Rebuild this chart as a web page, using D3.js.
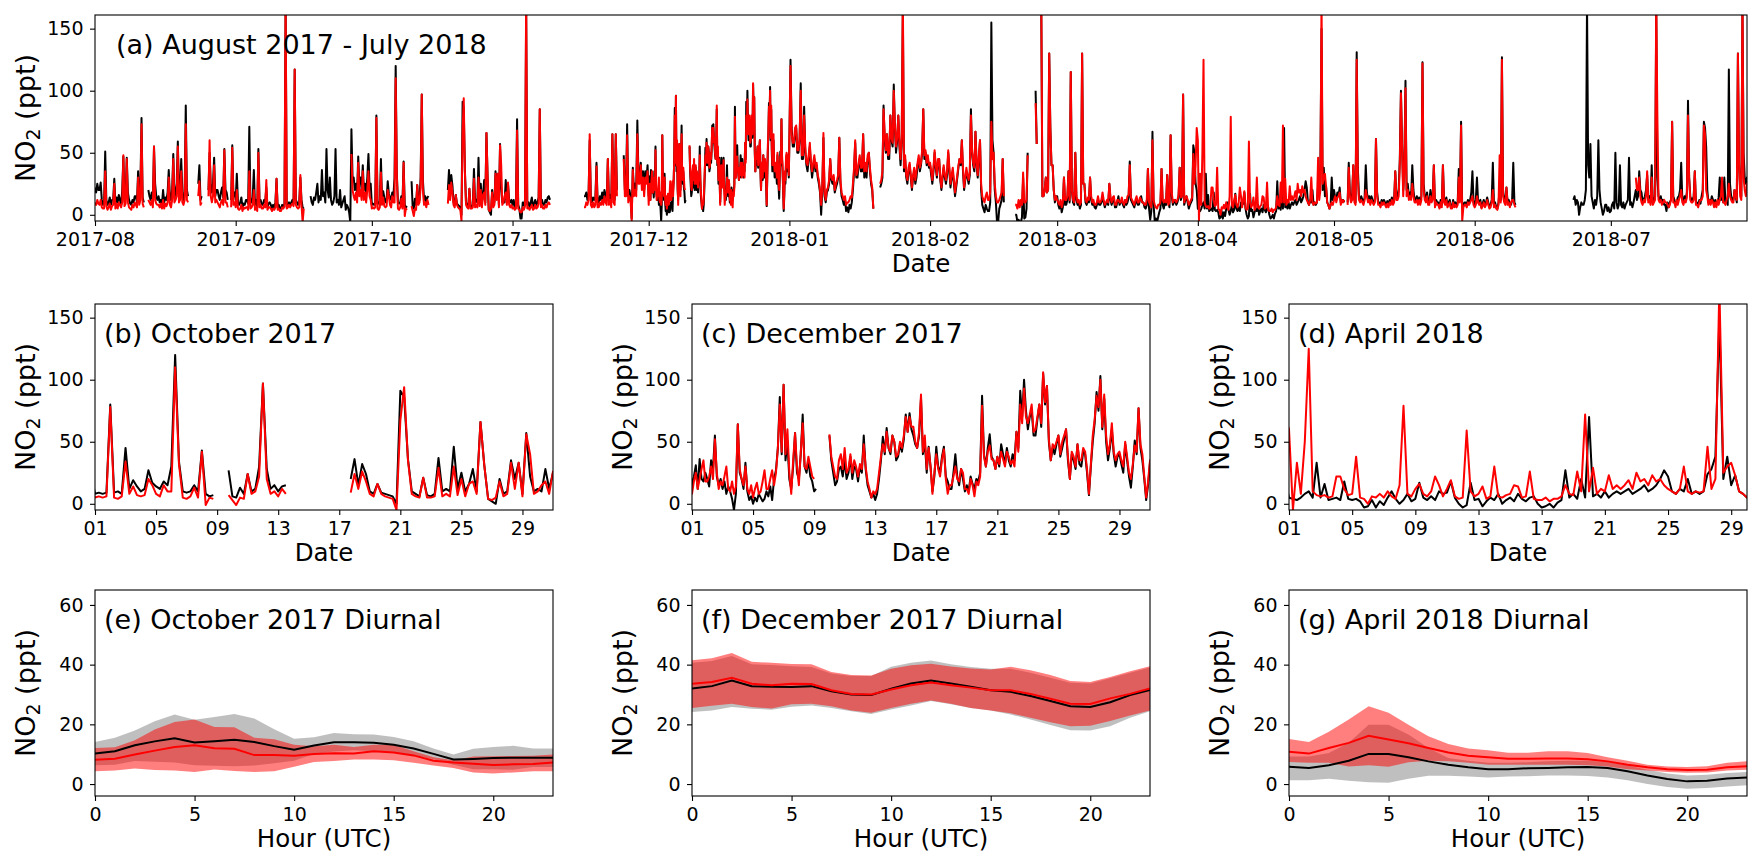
<!DOCTYPE html>
<html>
<head>
<meta charset="utf-8">
<script src="https://cdn.jsdelivr.net/npm/d3@7"></script>
<style>
body { margin: 0; background: #fff; }
text { font-family: "DejaVu Sans", sans-serif; }
</style>
</head>
<body>
<script>
// NO2 time series, black = measured, red = model. One row per day:
// 4 values a day (00, 06, 12, 18 UTC), December 8 values a day (every 3 h).
var monthStarts = ["2017-08-01","2017-09-01","2017-10-01","2017-11-01","2017-12-01","2018-01-01",
                   "2018-02-01","2018-03-01","2018-04-01","2018-05-01","2018-06-01","2018-07-01"];
var stepsPerDay = [4, 4, 4, 4, 8, 4, 4, 4, 4, 4, 4, 4];

var blackAug = [22,18,25,20, 20,26,12,8, 9,51,12,8, 10,14,8,12, 12,29,9,14,
  10,16,12,8, 20,47,12,15, 46,18,12,9, 8,12,10,15, 15,10,35,12,
  20,78,14,10, null,null,null,20, 15,12,18,10, 55,25,15,12, 15,10,12,8,
  20,10,14,12, 18,36,15,12, 20,49,14,18, 25,59,18,20, 45,18,12,16,
  88,20,15,null, null,null,null,null, null,null,null,25, 40,12,15,null, null,null,null,null,
  20,50,25,18, 25,46,15,20, 20,15,12,18, 22,14,53,20, 18,12,null,null,
  12,56,15,18];
var redAug = [10,8,12,9, 8,12,6,5, 5,35,7,4, 6,9,4,7, 8,25,5,9,
  5,10,8,6, 10,48,7,9, 45,10,6,5, 4,8,6,10, 8,6,30,8,
  12,73,9,6, null,null,null,12, 10,8,12,6, 55,12,9,8, 8,6,9,5,
  12,5,9,7, 10,30,8,6, 12,45,10,12, 15,55,10,12, 35,10,8,12,
  73,12,10,null, null,null,null,null, null,null,null,15, 27,8,10,null, null,null,null,null,
  15,60,15,10, 15,40,10,12, 10,8,6,10, 12,8,52,10, 10,6,null,null,
  6,54,8,10];

var blackSep = [12,33,10,8, 10,14,6,9, 8,12,12,9, 71,10,10,14, 36,8,12,6,
  53,12,12,8, 8,12,10,22, 6,9,10,8, 5,8,6,10, 29,6,8,5,
  5,8,6,9, 170,6,8,10, 8,10,12,9, 117,12,10,8, 10,30,12,6,
  5,null,null,null, null,null,15,10, 8,14,12,18, 25,10,15,12, 36,15,18,10,
  53,20,14,30, 12,8,10,15, 53,10,12,8, 20,6,9,12, 15,4,8,6,
  2,-6,69,30, 30,20,25,18, 47,25,30,20, 40,20,25,18, 30,49,22,25];
var redSep = [6,20,5,4, 5,8,3,6, 5,6,6,4, 35,5,6,8, 20,4,6,3,
  50,6,8,5, 5,8,6,28, 4,6,6,5, 3,5,4,6, 29,4,5,3,
  3,6,5,7, 175,5,6,8, 6,8,9,7, 117,8,6,5, 6,32,8,-6,
  5,null,null,null, null,null,null,null, null,null,null,null, null,null,null,null, null,null,null,null,
  null,null,null,null, null,null,null,null, null,null,null,null, null,null,null,null, null,null,null,null,
  null,null,49,20, 15,12,18,10, 42,15,20,12, 35,12,18,10, 20,35,15,12];

var blackOct = [8,9,8,9, 80,9,10,8, 45,12,19,14, 10,12,27,17, 14,12,18,15,
  30,120,34,10, 9,10,15,10, 43,8,6,7, null,null,null,27, 6,5,13,8,
  24,10,12,30, 97,28,12,15, 10,14,15,null, null,null,null,null, null,null,null,null,
  null,null,null,null, null,null,null,20, 36,15,32,24, 10,8,16,9, 8,7,6,0,
  91,86,36,10, 8,6,21,7, 6,8,37,10, 12,10,46,12, 25,10,16,28,
  10,66,31,4, 2,0,20,8, 10,35,20,33, 8,57,22,10, 12,10,28,12,
  25,12,10,12];
var redOct = [5,6,5,6, 78,5,4,6, 34,8,14,7, 6,7,20,15, 8,6,15,10,
  10,110,32,5, 4,6,13,5, 42,-1,5,4, null,null,null,7, 3,-1,5,4,
  24,8,10,22, 97,20,8,10, 6,12,8,null, null,null,null,null, null,null,null,null,
  null,null,null,null, null,null,null,9, 24,12,26,18, 8,6,16,8, 6,5,4,-5,
  67,94,35,8, 6,5,21,5, 5,6,29,6, 8,6,30,7, 20,6,16,18,
  8,66,31,4, 3,5,18,6, 8,33,12,33, 6,56,40,8, 10,15,18,8,
  26,8,6,8];

var blackNov = [8,12,5,10, 77,8,5,-3, -3,10,8,12, 165,8,10,6, 10,14,6,9,
  12,8,10,14, 85,10,12,8, 8,12,10,14, 15,12,null,null, null,null,null,null,
  null,null,null,null, null,null,null,null, null,null,null,null, null,null,null,null, null,null,null,null,
  null,null,null,15, 15,18,12,16, 60,15,10,14, 12,14,42,10, 10,15,12,18,
  12,20,15,12, 45,12,16,10, 65,15,12,65, 20,null,null,null, null,null,48,20,
  20,73,15,20, 15,-3,38,20, 25,20,76,30, 30,42,25,35, 20,35,28,40];
var redNov = [5,6,4,5, 68,5,4,2, 2,6,4,7, 175,5,6,4, 6,8,4,5,
  8,5,6,9, 85,6,8,5, 5,8,6,9, 10,8,null,null, null,null,null,null,
  null,null,null,null, null,null,null,null, null,null,null,null, null,null,null,null, null,null,null,null,
  null,null,null,6, 6,10,8,12, 65,8,6,10, 6,8,39,6, 6,10,8,12,
  8,15,10,8, 45,8,12,6, 65,10,8,65, 15,null,null,null, null,null,45,15,
  15,64,10,15, 12,-5,36,15, 20,15,65,25, 25,40,20,30, 15,30,25,35];

var blackDec = [
  15,22,31,12,36,20,18,25,  20,14,35,28,55,22,15,20,  12,18,8,14,10,4,-5,8,
  64,25,20,12,33,10,3,6,  0,5,2,8,5,2,4,10,  6,14,3,20,27,45,86,40,
  96,35,50,20,12,30,57,25,  20,40,72,30,25,35,22,18,  10,12,null,null,null,null,null,null,
  55,35,25,15,18,28,30,22,  35,20,25,38,20,30,28,18,  30,25,55,28,15,10,5,8,
  3,8,20,35,54,40,61,45,  40,55,50,35,38,48,42,52,  72,58,73,60,55,48,45,55,
  85,40,50,25,46,30,10,22,  46,30,25,38,46,22,18,12,  12,25,40,22,15,28,20,10,
  15,10,22,16,12,20,18,25,  87,40,30,45,56,38,35,28,  38,30,48,40,32,45,35,30,
  40,35,58,45,91,70,100,75,  60,70,75,55,55,68,80,62,  105,80,95,50,35,45,40,48,
  55,38,45,52,60,35,20,40,  35,28,48,32,30,42,40,25,  7,30,50,65,90,75,103,60,
  85,50,35,45,60,40,30,38,  40,32,25,48,35,22,13,30,  51,40,77,45,35,20,3,15,
  33,25,40,48,45,35,38,30];
var redDec = [
  8,18,25,12,20,28,35,18,  18,22,30,20,52,25,12,18,  15,22,30,12,10,18,8,14,
  64,28,20,15,30,12,8,15,  5,12,17,8,10,18,27,12,  12,20,27,15,25,45,80,42,
  96,40,60,25,8,35,57,30,  15,42,65,30,28,38,30,22,  20,null,null,null,null,null,null,null,
  56,38,30,22,20,35,40,28,  45,25,28,40,25,35,30,22,  32,28,48,30,18,12,5,10,
  8,12,25,38,48,42,58,45,  42,55,50,38,40,50,45,55,  70,58,70,62,62,50,45,58,
  88,42,55,28,45,30,8,25,  40,28,22,36,44,20,8,15,  15,22,30,20,18,28,25,12,
  12,8,20,15,6,18,15,22,  79,38,30,42,47,36,35,28,  38,32,42,36,30,42,38,32,
  35,30,58,42,80,65,93,70,  65,72,80,58,60,70,80,65,  106,82,95,52,35,48,45,50,
  55,40,50,55,60,38,20,42,  38,30,48,35,35,45,42,28,  8,32,55,68,87,78,100,62,
  88,55,40,48,65,42,35,40,  42,35,30,50,38,25,20,32,  47,42,77,48,40,22,5,18,
  35,28,45,50,48,38,40,32];

var blackJan = [60,125,70,55, 55,65,70,50, 50,60,106,45, 45,87,50,40, 35,45,55,40,
  30,38,45,35, 40,30,25,18, 0,20,62,15, 10,18,20,25, 45,28,25,30,
  18,22,25,30, 62,25,15,12, 8,12,3,6, 2,8,5,10, 20,35,58,30,
  30,40,45,35, 35,65,30,40, 30,45,50,35, 25,20,5,null, null,null,null,null,
  22,25,30,88, 60,50,65,45, 45,80,60,55, 105,70,50,60, 80,55,40,60,
  165,35,45,30, 25,35,40,30, 20,30,35,25, 30,40,45,35, 40,50,85,45,
  50,40,45,38];
var redJan = [62,120,65,58, 58,70,72,52, 52,62,100,48, 48,80,55,42, 40,48,58,42,
  35,42,48,38, 42,32,28,20, 8,22,66,18, 12,20,22,28, 45,30,28,32,
  20,25,28,32, 62,28,18,15, 12,15,8,10, 10,12,15,14, 25,38,60,32,
  35,42,48,38, 38,65,35,42, 35,48,50,38, 28,22,5,null, null,null,null,null,
  25,28,35,85, 65,52,65,48, 50,80,62,58, 100,72,55,62, 80,58,45,62,
  175,38,48,32, 28,38,42,32, 22,32,38,28, 35,42,48,38, 42,52,85,48,
  52,42,48,40];

var blackFeb = [40,32,25,35, 50,38,30,42, 45,28,20,30, 38,30,25,32, 50,35,22,30,
  35,25,15,22, 30,38,45,40, 60,35,20,28, 35,30,25,32, 85,50,40,35,
  67,40,30,45, 60,20,8,5, 2,8,5,3, 3,10,155,60, 50,20,10,-6,
  -6,5,8,12, 45,10,null,null, null,null,null,null, null,null,null,0, 0,-6,-4,-6,
  -6,-2,30,-3, -2,5,50,null, null,null,null,null, null,100,57,null, null,null,165,15,
  15,20,30,18, 20,130,70,40, 40,20,10,15];
var redFeb = [42,35,28,38, 52,40,32,45, 45,30,22,32, 40,32,28,35, 52,38,25,32,
  38,28,18,25, 32,40,45,42, 60,38,22,30, 38,32,28,35, 80,52,42,38,
  67,42,32,48, 60,25,15,12, 10,15,18,12, 12,18,75,45, 50,25,15,10,
  10,12,15,18, 45,15,null,null, null,null,null,null, null,null,null,8, 8,5,12,6,
  12,8,34,10, 10,12,48,null, null,null,null,null, null,90,57,null, null,null,175,15,
  15,20,30,18, 20,130,70,40, 40,20,12,15];

var blackMar = [15,8,5,10, 2,6,30,8, 8,12,35,10, 115,20,10,8, 50,12,8,10,
  5,8,130,25, 25,10,8,12, 10,30,12,8, 10,6,5,8, 12,8,8,10,
  15,10,6,9, 10,8,25,12, 8,12,12,6, 6,10,15,8, 10,12,8,6,
  12,8,10,14, 43,12,10,8, 6,10,12,8, 8,12,15,10, 10,6,5,8,
  37,5,-4,3, 67,8,-5,-3, -6,-2,2,5, 37,8,5,10, 8,32,10,6,
  64,15,8,10, 12,8,10,14, 38,12,15,97, 8,12,15,10, 5,8,10,12,
  56,50,25,20];
var redMar = [12,10,8,12, 6,10,30,12, 12,15,35,12, 115,20,12,10, 50,15,10,12,
  8,10,130,25, 25,12,10,14, 12,30,15,10, 12,8,8,10, 15,10,10,12,
  18,12,8,10, 12,10,25,14, 10,14,15,8, 8,12,12,10, 10,14,10,8,
  12,10,15,16, 40,14,12,10, 8,12,15,10, 10,14,12,10, 10,8,8,12,
  37,10,8,6, 60,12,8,6, 5,8,8,10, 37,12,10,12, 10,32,8,10,
  64,18,10,12, 12,10,12,16, 38,14,15,97, 10,14,15,12, 8,10,12,14,
  49,25,40,70];

var blackApr = [5,4,3,5, 8,10,5,33, 5,16,3,4, 5,3,18,4, 3,4,2,-3,
  -2,3,-3,2, -1,5,10,4, 0,3,8,2, 4,17,5,3, 6,3,10,8,
  9,18,5,0, -3,-1,17,3, 4,-2,2,5, 3,8,0,3, 5,2,8,4,
  2,5,6,0, -3,-2,0,-3, 1,3,27,5, 8,4,20,5, 70,6,8,5,
  10,5,8,10, 8,10,12,8, 10,12,15,10, 12,15,20,27, 22,10,8,12,
  10,20,8,10, 8,10,24,28, 38,150,20,38, 15,23,10,8, 5,8,30,12];
var redApr = [60,-5,33,8, 50,125,10,7, 6,7,5,6, 22,22,12,7, 8,38,5,4,
  0,6,5,8, 5,10,6,4, 15,79,8,6, 12,16,8,6, 10,22,15,6,
  12,19,6,4, 5,59,10,6, 8,14,4,6, 30,6,5,7, 8,15,14,5,
  6,26,4,3, 3,5,2,4, 4,6,15,8, 7,26,10,72, 10,29,8,12,
  10,23,12,15, 12,15,19,12, 25,18,20,15, 23,18,20,15, 12,10,8,12,
  30,10,8,10, 9,10,46,12, 20,175,25,30, 33,23,10,8, 5,8,10,8];

var blackMay = [20,14,12,18, 15,22,10,12, 12,10,null,null, 10,42,18,12, 15,40,12,10,
  131,38,15,12, 15,12,10,14, 40,18,12,15, 10,15,12,9, 12,61,18,10,
  10,8,12,9, 12,10,8,11, 8,12,10,14, 10,12,35,15, 15,20,45,100,
  55,20,40,108, 20,25,15,18, 15,40,20,12, 12,15,10,14, 10,15,123,25,
  15,12,18,10, 10,20,12,15, 40,8,12,10, 10,6,12,8, 40,12,10,14,
  8,10,12,6, 6,12,8,10, 8,10,37,12, 75,5,8,10, 10,8,12,9,
  12,18,35,10];
var redMay = [12,15,10,14, 15,18,8,12, 10,12,null,null, 8,38,15,10, 12,40,10,8,
  125,30,12,10, 12,10,8,12, 20,15,10,12, 8,12,10,8, 10,61,15,8,
  8,6,10,8, 10,8,6,9, 6,10,8,12, 8,10,35,12, 12,15,40,98,
  55,15,35,102, 15,20,12,15, 12,25,15,10, 10,12,8,12, 8,12,122,20,
  12,10,15,8, 8,15,10,12, 40,6,10,8, 8,5,10,6, 40,10,8,12,
  6,8,10,5, 5,10,6,8, 6,8,30,10, 72,-5,6,8, 8,6,10,8,
  10,12,15,8];

var blackJun = [8,12,30,10, 10,12,6,9, 12,8,10,14, 10,6,8,12, 42,8,10,6,
  5,10,20,12, 127,20,12,10, 22,10,12,8, 8,12,42,10, 8,null,null,null,
  null,null,null,null, null,null,null,null, null,null,null,null, null,null,null,null, null,null,null,null,
  null,null,null,null, null,null,null,null, null,null,null,null, null,null,null,null, null,null,null,null,
  null,null,null,null, null,null,null,12, 15,8,12,10, 0,6,10,8, 8,12,20,170,
  40,30,57,15, 10,5,12,8, 15,60,20,10, 5,0,3,8, 8,3,6,2];
var redJun = [6,8,15,10, 8,10,5,7, 10,6,8,12, 8,5,6,10, 20,6,8,5,
  4,8,48,10, 125,15,10,8, 22,8,10,6, 10,12,12,8, 6,null,null,null,
  null,null,null,null, null,null,null,null, null,null,null,null, null,null,null,null, null,null,null,null,
  null,null,null,null, null,null,null,null, null,null,null,null, null,null,null,null, null,null,null,null,
  null,null,null,null, null,null,null,null, null,null,null,null, null,null,null,null, null,null,null,null,
  null,null,null,null, null,null,null,null, null,null,null,null, null,null,null,null, null,null,null,null];

var blackJul = [3,8,10,5, 50,10,5,8, 40,8,6,10, 5,8,10,12, 46,8,10,6,
  10,15,20,12, 15,35,20,18, 10,12,15,20, 32,12,15,10, 40,10,12,15,
  165,30,15,12, 15,10,12,8, 8,3,10,6, 10,12,75,15, 12,8,10,14,
  15,20,42,12, 10,15,12,18, 92,30,15,12, 12,15,35,10, 10,8,12,9,
  15,20,75,70, 55,20,10,12, 10,15,12,8, 12,8,10,14, 30,12,15,10,
  30,10,12,8, 117,25,15,12, 12,20,15,10, 130,40,20,15, 165,50,30,25,
  30,20,25,18];
var redJul = [null,null,null,null, null,null,null,null, null,null,null,null, null,null,null,null, null,null,null,null,
  null,null,30,20, 20,30,15,10, 8,12,10,15, 35,10,12,8, 30,8,10,12,
  175,80,12,10, 12,8,10,12, 10,10,8,6, 8,12,75,10, 10,6,12,8,
  12,15,20,10, 8,12,10,14, 80,30,12,10, 10,12,35,8, 8,6,10,12,
  12,15,72,65, 20,15,8,12, 8,12,10,6, 10,6,12,8, 12,15,30,10,
  10,8,12,15, 25,15,12,10, 10,20,15,12, 130,40,15,12, 175,30,20,15,
  25,20,18,15];

var blackByMonth = [blackAug, blackSep, blackOct, blackNov, blackDec, blackJan,
                    blackFeb, blackMar, blackApr, blackMay, blackJun, blackJul];
var redByMonth = [redAug, redSep, redOct, redNov, redDec, redJan,
                  redFeb, redMar, redApr, redMay, redJun, redJul];

// diurnal cycles, hour 0..23: mean with lower / upper band
var hours = [0,1,2,3,4,5,6,7,8,9,10,11,12,13,14,15,16,17,18,19,20,21,22,23];

var octBlackMean = [10.2,11.0,13.0,14.3,15.3,13.9,14.3,14.8,14.1,12.7,11.5,12.9,14.0,14.0,13.8,13.2,11.9,10.1,8.2,8.4,8.7,8.8,8.8,8.8];
var octBlackHigh = [14.1,15.5,17.9,21.0,23.3,21.5,22.5,23.5,22.0,18.4,15.2,15.7,17.1,16.7,16.6,15.8,14.3,11.9,9.9,11.8,12.4,12.8,11.9,11.9];
var octBlackLow  = [6.3,6.5,7.7,7.5,7.2,6.3,6.1,6.0,6.2,7.0,7.8,10.1,10.9,11.3,11.0,10.6,9.5,8.3,6.5,5.0,5.0,4.8,5.7,5.7];
var octRedMean = [8.1,8.5,9.9,11.2,12.4,13.0,12.0,11.8,9.7,9.7,9.5,10.1,10.3,10.2,11.0,10.6,9.6,7.8,7.2,6.8,6.4,6.6,6.7,7.2];
var octRedHigh = [12.1,12.3,14.7,18.3,20.8,21.6,19.1,19.0,15.5,15.0,13.2,12.7,13.2,12.4,13.2,13.2,11.0,9.0,8.0,9.2,9.3,9.4,9.5,9.9];
var octRedLow  = [4.3,4.5,5.2,4.7,4.5,4.0,4.9,4.4,4.0,4.3,5.8,7.4,7.7,8.2,8.2,8.0,7.1,6.2,5.4,3.9,3.5,3.9,4.3,4.3];

var decBlackMean = [32.0,32.8,34.7,32.8,32.6,32.5,32.8,31.1,30.0,29.8,31.9,33.7,34.7,33.7,32.6,31.4,30.9,29.5,27.8,26.1,25.8,27.4,29.8,31.5];
var decBlackHigh = [40.6,41.2,42.9,40.1,39.9,39.5,39.2,37.0,36.2,36.2,39.3,40.6,41.4,40.1,39.2,38.6,38.6,37.3,35.6,33.9,33.7,35.4,37.3,39.0];
var decBlackLow  = [24.1,24.6,25.8,25.2,24.9,25.9,26.3,25.5,24.4,23.5,25.0,26.3,27.8,26.7,25.5,24.6,23.3,21.6,19.8,18.0,17.9,19.4,22.2,24.4];
var decRedMean = [33.6,34.2,35.6,33.6,33.1,33.6,33.5,31.4,30.2,30.0,31.7,33.1,34.0,33.1,32.3,31.4,31.4,30.2,28.6,26.9,26.8,28.7,30.2,32.0];
var decRedHigh = [41.5,42.1,43.9,41.0,40.6,40.2,40.1,37.5,36.5,36.4,38.6,39.8,40.3,39.4,38.7,38.4,39.3,38.1,36.5,34.5,34.2,35.9,37.8,39.5];
var decRedLow  = [25.5,26.2,26.9,25.8,25.3,26.7,26.9,26.1,24.6,23.9,25.5,26.9,28.0,26.9,25.5,24.6,23.7,22.2,20.7,19.4,19.5,21.1,23.0,24.6];

var aprBlackMean = [5.8,5.4,6.3,7.8,10.1,10.1,9.0,7.6,6.5,5.6,5.0,5.0,5.3,5.4,5.6,5.7,5.4,4.3,2.9,1.7,0.9,1.1,1.9,2.2];
var aprBlackHigh = [9.2,9.2,10.4,13.8,19.9,19.9,16.6,12.1,8.7,7.8,7.1,7.1,7.3,7.6,7.8,7.8,7.4,6.2,4.8,3.5,2.9,3.1,3.7,4.0];
var aprBlackLow  = [1.3,1.3,1.8,1.1,0.6,0.4,1.8,2.8,2.8,2.5,2.2,2.5,2.6,2.9,2.9,2.7,2.2,1.3,0.0,-1.0,-1.6,-1.3,-0.8,-0.4];
var aprRedMean = [10.8,10.2,12.1,13.8,16.2,14.9,13.7,12.1,10.6,9.5,9.0,8.5,8.5,8.6,8.6,8.3,7.6,6.5,5.6,5.0,4.7,4.8,5.6,6.0];
var aprRedHigh = [15.1,14.1,17.5,21.6,26.1,23.9,19.9,16.0,13.4,11.9,11.3,10.5,10.5,11.0,11.0,10.4,9.0,7.8,6.5,5.9,5.7,6.0,7.1,7.6];
var aprRedLow  = [7.4,7.1,7.1,5.9,6.3,5.8,7.3,7.8,7.6,7.1,6.5,6.5,6.5,6.5,6.5,6.3,5.9,5.0,4.5,4.0,3.8,3.9,4.5,4.8];

// ticks
var no2Ticks = [0, 50, 100, 150];
var diurnalTicks = [0, 20, 40, 60];
var dayTicks = [1, 5, 9, 13, 17, 21, 25, 29];
var hourTicks = [0, 5, 10, 15, 20];

// ---------------------------------------------------------------
var parseDay = d3.utcParse("%Y-%m-%d");

function buildSeries(byMonth) {
	var out = [];
	byMonth.forEach(function (vals, m) {
		var t0 = parseDay(monthStarts[m]);
		var step = 24 / stepsPerDay[m];
		vals.forEach(function (v, i) {
			out.push({ t: d3.utcHour.offset(t0, i * step), v: v });
		});
	});
	return out;
}
var blackSeries = buildSeries(blackByMonth);
var redSeries = buildSeries(redByMonth);

var canvas = d3.select("body").append("svg")
	.attr("width", 1763)
	.attr("height", 868);

var cols = [95, 692, 1289];
var rows = [15, 304, 590];
var smallW = 458, panelH = 206, bigW = 1652;
var clipCount = 0;

function makePanel(left, top, w, h) {
	var g = canvas.append("g").attr("transform", "translate(" + left + "," + top + ")");
	var id = "clip" + (clipCount++);
	g.append("clipPath").attr("id", id).append("rect").attr("width", w).attr("height", h);
	var plot = g.append("g").attr("clip-path", "url(#" + id + ")");
	return { g: g, plot: plot, w: w, h: h };
}

function styleAxis(sel) {
	sel.select(".domain").remove();
	sel.selectAll(".tick line").attr("stroke", "#000").attr("stroke-width", 1.1);
	sel.selectAll(".tick text").attr("fill", "#000");
	sel.attr("font-size", 19).attr("font-family", "DejaVu Sans, sans-serif");
}

function decorate(p, xAxis, yAxis, title, titleDx, xLabel) {
	p.g.append("g").attr("transform", "translate(0," + p.h + ")").call(xAxis).call(styleAxis);
	p.g.append("g").call(yAxis).call(styleAxis);
	p.g.append("rect").attr("width", p.w).attr("height", p.h)
		.attr("fill", "none").attr("stroke", "#000").attr("stroke-width", 1.1);

	p.g.append("text").attr("x", titleDx).attr("y", 38.5)
		.attr("font-size", 27).text(title);

	p.g.append("text").attr("x", p.w / 2).attr("y", p.h + 51)
		.attr("text-anchor", "middle").attr("font-size", 24.5).text(xLabel);

	var yl = p.g.append("text")
		.attr("transform", "translate(-60," + (p.h / 2) + ") rotate(-90)")
		.attr("text-anchor", "middle").attr("font-size", 27);
	yl.append("tspan").text("NO");
	yl.append("tspan").attr("font-size", 19).attr("dy", 5).text("2");
	yl.append("tspan").attr("dy", -5).text(" (ppt)");
}

function drawSeries(p, x, y) {
	var line = d3.line()
		.defined(function (d) { return d.v !== null; })
		.x(function (d) { return x(d.t); })
		.y(function (d) { return y(d.v); });
	p.plot.append("path").datum(blackSeries).attr("d", line)
		.attr("fill", "none").attr("stroke", "#000").attr("stroke-width", 2).attr("stroke-linejoin", "round");
	p.plot.append("path").datum(redSeries).attr("d", line)
		.attr("fill", "none").attr("stroke", "#ff0000").attr("stroke-width", 2).attr("stroke-linejoin", "round");
}

// (a) whole year
var pa = makePanel(cols[0], rows[0], bigW, panelH);
var xa = d3.scaleUtc().domain([parseDay("2017-08-01"), parseDay("2018-07-31")]).range([0, bigW]);
var ya = d3.scaleLinear().domain([-5, 161]).range([panelH, 0]);
drawSeries(pa, xa, ya);
decorate(pa,
	d3.axisBottom(xa).tickValues(monthStarts.map(parseDay)).tickFormat(d3.utcFormat("%Y-%m")).tickSize(5).tickPadding(6.5),
	d3.axisLeft(ya).tickValues(no2Ticks).tickSize(5).tickPadding(6.5),
	"(a) August 2017 - July 2018", 21, "Date");

// (b)-(d) single months
var monthPanels = [
	{ title: "(b) October 2017", start: "2017-10-01", end: "2017-10-31" },
	{ title: "(c) December 2017", start: "2017-12-01", end: "2017-12-31" },
	{ title: "(d) April 2018", start: "2018-04-01", end: "2018-04-30" }
];
monthPanels.forEach(function (mp, k) {
	var p = makePanel(cols[k], rows[1], smallW, panelH);
	var t0 = parseDay(mp.start);
	var x = d3.scaleUtc().domain([t0, parseDay(mp.end)]).range([0, smallW]);
	var y = d3.scaleLinear().domain([-5, 161]).range([panelH, 0]);
	drawSeries(p, x, y);
	var ticks = dayTicks.map(function (d) { return d3.utcDay.offset(t0, d - 1); });
	decorate(p,
		d3.axisBottom(x).tickValues(ticks).tickFormat(d3.utcFormat("%d")).tickSize(5).tickPadding(6.5),
		d3.axisLeft(y).tickValues(no2Ticks).tickSize(5).tickPadding(6.5),
		mp.title, 9, "Date");
});

// (e)-(g) diurnal cycles
var diurnal = [
	{ title: "(e) October 2017 Diurnal", bm: octBlackMean, bl: octBlackLow, bh: octBlackHigh, rm: octRedMean, rl: octRedLow, rh: octRedHigh },
	{ title: "(f) December 2017 Diurnal", bm: decBlackMean, bl: decBlackLow, bh: decBlackHigh, rm: decRedMean, rl: decRedLow, rh: decRedHigh },
	{ title: "(g) April 2018 Diurnal", bm: aprBlackMean, bl: aprBlackLow, bh: aprBlackHigh, rm: aprRedMean, rl: aprRedLow, rh: aprRedHigh }
];
diurnal.forEach(function (dp, k) {
	var p = makePanel(cols[k], rows[2], smallW, panelH);
	var x = d3.scaleLinear().domain([0, 23]).range([0, smallW]);
	var y = d3.scaleLinear().domain([-4, 65]).range([panelH, 0]);

	function band(lo, hi) {
		return d3.area().x(function (h) { return x(h); })
			.y0(function (h, i) { return y(lo[i]); })
			.y1(function (h, i) { return y(hi[i]); })(hours);
	}
	function meanLine(m) {
		return d3.line().x(function (h) { return x(h); })
			.y(function (h, i) { return y(m[i]); })(hours);
	}
	p.plot.append("path").attr("d", band(dp.bl, dp.bh)).attr("fill", "#000").attr("fill-opacity", 0.25);
	p.plot.append("path").attr("d", band(dp.rl, dp.rh)).attr("fill", "#ff0000").attr("fill-opacity", 0.5);
	p.plot.append("path").attr("d", meanLine(dp.bm)).attr("fill", "none").attr("stroke", "#000").attr("stroke-width", 2);
	p.plot.append("path").attr("d", meanLine(dp.rm)).attr("fill", "none").attr("stroke", "#ff0000").attr("stroke-width", 2);

	decorate(p,
		d3.axisBottom(x).tickValues(hourTicks).tickSize(5).tickPadding(6.5),
		d3.axisLeft(y).tickValues(diurnalTicks).tickSize(5).tickPadding(6.5),
		dp.title, 9, "Hour (UTC)");
});
</script>
</body>
</html>
